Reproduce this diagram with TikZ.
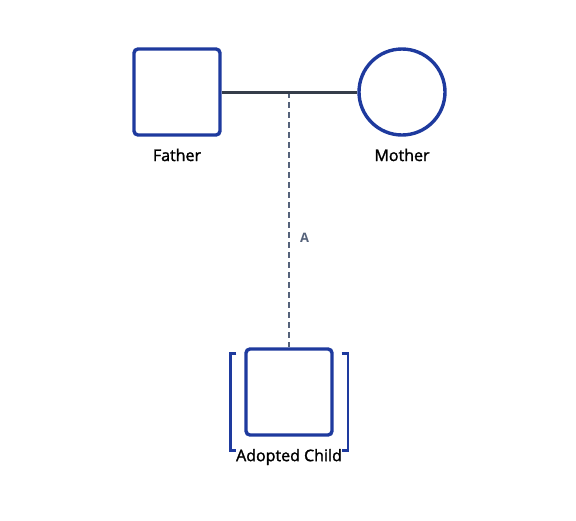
\documentclass[tikz,border=0pt]{standalone}
\usepackage{fontspec}
\setmainfont{Open Sans}
\newfontfamily\semibold[FakeBold=1.6]{Open Sans}
\definecolor{pedblue}{HTML}{1E3A9E}
\definecolor{slate}{HTML}{353D4A}
\definecolor{dashgray}{HTML}{55627A}
\begin{document}
\begin{tikzpicture}[
  x=1pt, y=-1pt,
  male/.style={draw=pedblue, line width=3.4pt, rounded corners=4pt, minimum size=86pt, inner sep=0pt, fill=white},
  female/.style={circle, draw=pedblue, line width=3.4pt, minimum size=86pt, inner sep=0pt, fill=white},
  person/.style={font=\semibold\fontsize{16}{19}\selectfont, text=black},
  bracket/.style={draw=pedblue, line width=2.4pt},
  scale=1
]
\useasboundingbox (0,0) rectangle (576,520);

% --- Parents ---
\node[male] (F) at (177,92) {};
\node[female] (M) at (402,92) {};
\node[person] (FL) at (177,155) {Father};
\node[person] (ML) at (402,155) {Mother};

% --- Child ---
\node[male] (C) at (289,392) {};
\node[person] (CL) at (289,457) {Adopted Child};

% --- Adoption brackets ---
\draw[bracket] ([xshift=-8pt,yshift=-6pt]C.north west) -- ++(-6,0) -- ++(0,97) -- ++(6,0);
\draw[bracket] ([xshift=8pt,yshift=-6pt]C.north east) -- ++(6,0) -- ++(0,97) -- ++(-6,0);

% --- Partnership line ---
\coordinate (P) at (289,92);
\draw[dashgray, line width=1.5pt, dash pattern=on 6pt off 4pt] (P) -- node[right=7pt, pos=0.57, font=\bfseries\fontsize{13}{15}\selectfont, text=dashgray] (A) {A} (C.north);
\draw[slate, line width=3pt] (F.east) -- (M.west);

\end{tikzpicture}
\end{document}
